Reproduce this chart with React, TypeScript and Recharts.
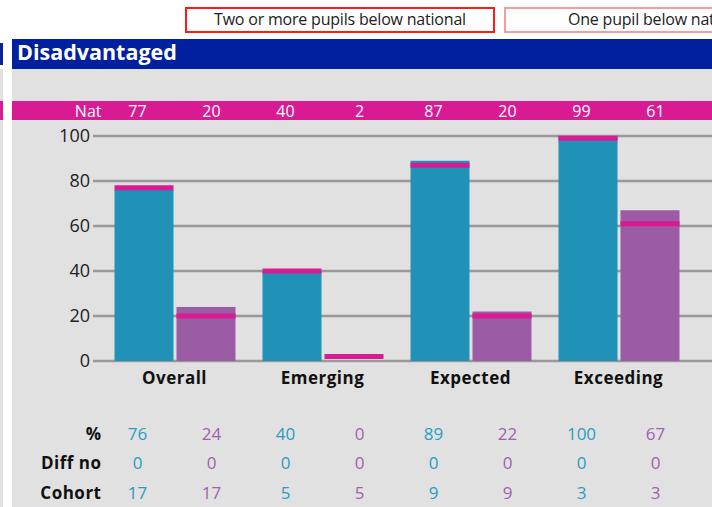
import { BarChart, Bar, XAxis, YAxis, CartesianGrid } from "recharts";

const categories = ["Overall", "Emerging", "Expected", "Exceeding"];
const disadvantagedPct = [76, 40, 89, 100];
const othersPct = [24, 0, 22, 67];
const nationalDisadvantaged = [77, 40, 87, 99];
const nationalOthers = [20, 2, 20, 61];
const diffDisadvantaged = [0, 0, 0, 0];
const diffOthers = [0, 0, 0, 0];
const cohortDisadvantaged = [17, 5, 9, 3];
const cohortOthers = [17, 5, 9, 3];
const yTicks = [0, 20, 40, 60, 80, 100];

const TEAL = "#2192b7";
const TEAL_TEXT = "#2a9cc3";
const PURPLE = "#9b5ca5";
const PURPLE_TEXT = "#a062ab";
const PINK = "#d81b93";
const GRID = "#999999";
const FONT = '"Open Sans", sans-serif';

// chart layout
const CHART_W = 740;
const CHART_H = 507;
const Y_AXIS_W = 93;
const PAD_L = 7.5;
const PAD_R = 47.5;
const BAND = (CHART_W - Y_AXIS_W - PAD_L - PAD_R) / categories.length;
const HALF = BAND / 4;

const data = categories.map((name, i) => ({
  name,
  disadvantaged: disadvantagedPct[i],
  others: othersPct[i],
  natDisadvantaged: nationalDisadvantaged[i],
  natOthers: nationalOthers[i],
}));

const NatTick = (props: any) => {
  const { x, y, index } = props;
  const ty = y - 25;
  const common = {
    fill: "#ffffff",
    fontSize: 16,
    fontFamily: FONT,
    dominantBaseline: "central" as const,
  };
  return (
    <g>
      {index === 0 && (
        <text x={x - 2 * HALF + 1} y={ty} textAnchor="end" {...common}>
          Nat
        </text>
      )}
      <text x={x - HALF} y={ty} textAnchor="middle" {...common}>
        {nationalDisadvantaged[index]}
      </text>
      <text x={x + HALF} y={ty} textAnchor="middle" {...common}>
        {nationalOthers[index]}
      </text>
    </g>
  );
};

const rows = [
  { label: "%", a: disadvantagedPct, b: othersPct, dy: 72 },
  { label: "Diff no", a: diffDisadvantaged, b: diffOthers, dy: 101.5 },
  { label: "Cohort", a: cohortDisadvantaged, b: cohortOthers, dy: 131 },
];

const CategoryTick = (props: any) => {
  const { x, y, index, payload } = props;
  return (
    <g fontFamily={FONT}>
      <text
        x={x}
        y={y + 16}
        textAnchor="middle"
        dominantBaseline="central"
        fontSize={17}
        fontWeight={700}
        fill="#111"
        letterSpacing={0.5}
      >
        {payload.value}
      </text>
      {rows.map((r) => (
        <g key={r.label}>
          {index === 0 && (
            <text
              x={x - 2 * HALF + 1}
              y={y + r.dy}
              textAnchor="end"
              dominantBaseline="central"
              fontSize={17}
              fontWeight={700}
              fill="#111"
              letterSpacing={0.5}
            >
              {r.label}
            </text>
          )}
          <text x={x - HALF} y={y + r.dy} textAnchor="middle" dominantBaseline="central" fontSize={17} fill={TEAL_TEXT}>
            {r.a[index]}
          </text>
          <text x={x + HALF} y={y + r.dy} textAnchor="middle" dominantBaseline="central" fontSize={17} fill={PURPLE_TEXT}>
            {r.b[index]}
          </text>
        </g>
      ))}
    </g>
  );
};

const NatMarker = (props: any) => {
  const { x, y, width } = props;
  return <rect x={x} y={y - 2.5} width={width} height={5} fill={PINK} />;
};

const legendBox = (left: number, color: string, text: string) => (
  <div
    style={{
      position: "absolute",
      left,
      top: 7,
      width: 310,
      height: 26,
      boxSizing: "border-box",
      border: `2px solid ${color}`,
      fontSize: 16,
      lineHeight: "21px",
      textAlign: "center",
      color: "#222",
      whiteSpace: "nowrap",
      letterSpacing: -0.2,
    }}
  >
    {text}
  </div>
);

export default function App() {
  return (
    <div
      style={{
        position: "fixed",
        left: 0,
        top: 0,
        width: 712,
        height: 507,
        overflow: "hidden",
        background: "#fff",
        fontFamily: FONT,
      }}
    >
      {legendBox(185, "#ff1a1a", "Two or more pupils below national")}
      {legendBox(504, "#f79b9b", "One pupil below national")}

      {/* neighbouring panel edge */}
      <div style={{ position: "absolute", left: 0, top: 43, width: 3, height: 22, background: "#0a2396" }} />
      <div style={{ position: "absolute", left: 0, top: 69, width: 3, height: 438, background: "#e1e1e1" }} />
      <div style={{ position: "absolute", left: 0, top: 101, width: 3, height: 19, background: PINK }} />

      <div
        style={{
          position: "absolute",
          left: 12,
          top: 39,
          width: 700,
          height: 30,
          background: "#0020a0",
          color: "#fff",
          fontWeight: 700,
          fontSize: 21.5,
          lineHeight: "26px",
          paddingLeft: 5,
          boxSizing: "border-box",
        }}
      >
        Disadvantaged
      </div>
      <div style={{ position: "absolute", left: 12, top: 69, width: 700, height: 438, background: "#e1e1e1" }} />
      <div style={{ position: "absolute", left: 12, top: 101, width: 700, height: 19, background: PINK }} />

      <div style={{ position: "absolute", left: 0, top: 0 }}>
        <BarChart
          width={CHART_W}
          height={CHART_H}
          data={data}
          margin={{ top: 0, right: 0, bottom: 0, left: 0 }}
          barSize={59}
          barGap={3}
        >
          <CartesianGrid vertical={false} stroke={GRID} strokeWidth={2.5} />
          <XAxis
            dataKey="name"
            height={146}
            padding={{ left: PAD_L, right: PAD_R }}
            axisLine={false}
            tickLine={false}
            tickSize={0}
            tickMargin={0}
            interval={0}
            tick={<CategoryTick />}
          />
          <XAxis
            xAxisId="nat"
            orientation="top"
            dataKey="name"
            height={136}
            padding={{ left: PAD_L, right: PAD_R }}
            axisLine={false}
            tickLine={false}
            tickSize={0}
            tickMargin={0}
            interval={0}
            tick={<NatTick />}
          />
          <YAxis
            type="number"
            domain={[0, 100]}
            ticks={yTicks}
            width={Y_AXIS_W}
            axisLine={false}
            tickLine={false}
            tickSize={0}
            tickMargin={3}
            tick={{ fill: "#222", fontSize: 18, fontFamily: FONT }}
          />
          <Bar dataKey="disadvantaged" fill={TEAL} isAnimationActive={false} />
          <Bar dataKey="others" fill={PURPLE} isAnimationActive={false} />
          <Bar xAxisId="nat" dataKey="natDisadvantaged" shape={<NatMarker />} isAnimationActive={false} />
          <Bar xAxisId="nat" dataKey="natOthers" shape={<NatMarker />} isAnimationActive={false} />
        </BarChart>
      </div>
    </div>
  );
}
